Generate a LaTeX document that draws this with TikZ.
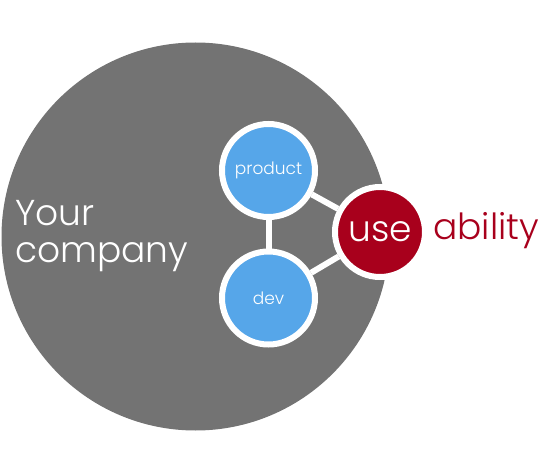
\documentclass[tikz,border=0pt]{standalone}
\usepackage{fontspec}
\setmainfont{Poppins}[UprightFont={* Light}]
\usetikzlibrary{backgrounds}
\definecolor{companygrey}{HTML}{737373}
\definecolor{teamblue}{HTML}{56A6E9}
\definecolor{userred}{HTML}{A8001C}
\tikzset{
    team/.style={circle, fill=teamblue, draw=white, line width=6pt, minimum size=93pt, inner sep=0pt, text=white, font=\fontsize{17}{20}\selectfont},
    user/.style={circle, fill=userred, draw=white, line width=6pt, minimum size=90pt, inner sep=0pt, text=white, font=\fontsize{36}{40}\selectfont},
    link/.style={draw=white, line width=6pt}
}
\begin{document}
\begin{tikzpicture}[x=1pt, y=-1pt]
    \useasboundingbox (0,0) rectangle (558,460);

    % Teams and user
    \node[team] (product) at (268.5,170.5) {product};
    \node[team] (dev) at (268.5,298) {dev};
    \node[user] (use) at (380,232) {use};
    \node[anchor=base west, inner sep=0pt, text=userred, font=\fontsize{36}{40}\selectfont] (ability) at (433,240) {ability};

    \begin{pgfonlayer}{background}
        % The company
        \fill[companygrey] (195.5,236.5) circle (194);
        % Links
        \path[link] (product) -- (dev);
        \path[link] (product) -- (use);
        \path[link] (dev) -- (use);
    \end{pgfonlayer}

    \node[anchor=base west, align=left, inner sep=0pt, text=white, font=\fontsize{36}{37}\selectfont] (company) at (15,262) {Your\\company};
\end{tikzpicture}
\end{document}
